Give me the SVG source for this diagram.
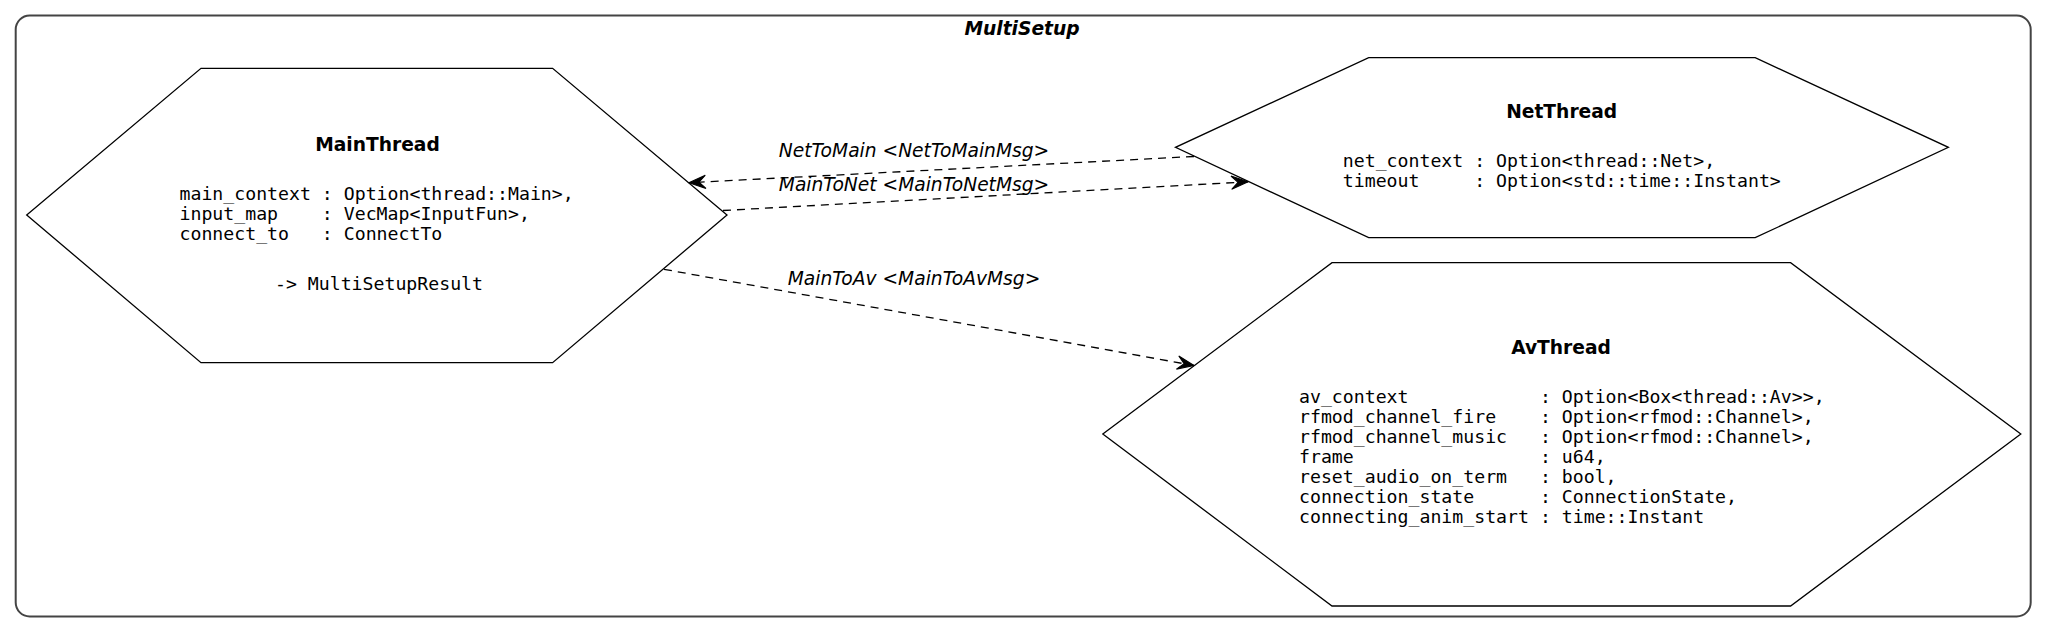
<svg xmlns="http://www.w3.org/2000/svg" width="2047" height="633" viewBox="0 0 2047 633">
<style>
.hex{fill:#fff;stroke:#000;stroke-width:1.3}
.title{font-family:"DejaVu Sans",sans-serif;font-weight:bold;font-size:18.67px;text-anchor:middle;fill:#000}
.mono{font-family:"DejaVu Sans Mono",monospace;font-size:18.2px;white-space:pre;fill:#000}
.lbl{font-family:"DejaVu Sans",sans-serif;font-style:italic;font-size:18.67px;text-anchor:middle;fill:#000}
.edge{fill:none;stroke:#000;stroke-width:1.3;stroke-dasharray:8,6}
</style>
<defs>
<marker id="vee" markerUnits="userSpaceOnUse" markerWidth="20" markerHeight="20" viewBox="-16 -8 18 16" refX="0" refY="0" orient="auto">
<path d="M0,0 L-15,-6 L-9,0 L-15,6 Z" fill="#000" stroke="#000" stroke-width="1"/>
</marker>
</defs>
<rect width="2047" height="633" fill="#fff"/>
<g id="MultiSetup">
<rect x="15.7" y="15.5" width="2015" height="601" rx="14" ry="14" fill="none" stroke="#444" stroke-width="2"/>
<text x="1022" y="35" class="title" font-style="italic">MultiSetup</text>
</g>
<g id="MainThread">
<polygon class="hex" points="201,68.3 552.6,68.3 727,215 552.6,362.7 201,362.7 26.7,215"/>
<text x="377.5" y="151" class="title">MainThread</text>
<text x="179.5" y="200" class="mono">main_context : Option&lt;thread::Main&gt;,</text>
<text x="179.5" y="220" class="mono">input_map    : VecMap&lt;InputFun&gt;,</text>
<text x="179.5" y="240" class="mono">connect_to   : ConnectTo</text>
<text x="379" y="290" class="mono" text-anchor="middle">-&gt; MultiSetupResult</text>
</g>
<g id="NetThread">
<polygon class="hex" points="1368.7,57.7 1755.2,57.7 1948.4,147.3 1755.2,237.7 1368.7,237.7 1175.5,147.3"/>
<text x="1561.7" y="118" class="title">NetThread</text>
<text x="1342.8" y="166.5" class="mono">net_context : Option&lt;thread::Net&gt;,</text>
<text x="1342.8" y="186.5" class="mono">timeout     : Option&lt;std::time::Instant&gt;</text>
</g>
<g id="AvThread">
<polygon class="hex" points="1332,262.7 1790.6,262.7 2020.8,434 1790.6,606 1332,606 1102.8,434"/>
<text x="1561" y="354" class="title">AvThread</text>
<text x="1299" y="403" class="mono">av_context            : Option&lt;Box&lt;thread::Av&gt;&gt;,</text>
<text x="1299" y="423" class="mono">rfmod_channel_fire    : Option&lt;rfmod::Channel&gt;,</text>
<text x="1299" y="443" class="mono">rfmod_channel_music   : Option&lt;rfmod::Channel&gt;,</text>
<text x="1299" y="463" class="mono">frame                 : u64,</text>
<text x="1299" y="483" class="mono">reset_audio_on_term   : bool,</text>
<text x="1299" y="503" class="mono">connection_state      : ConnectionState,</text>
<text x="1299" y="523" class="mono">connecting_anim_start : time::Instant</text>
</g>
<g id="connectors">
<path class="edge" d="M1194,156.5 L689,182.7" marker-end="url(#vee)"/>
<text x="914" y="157" class="lbl">NetToMain &lt;NetToMainMsg&gt;</text>
<path class="edge" d="M723,210.5 L1248,181.8" marker-end="url(#vee)"/>
<text x="914" y="190.5" class="lbl">MainToNet &lt;MainToNetMsg&gt;</text>
<path class="edge" d="M664,269.3 L1194,365.5" marker-end="url(#vee)"/>
<text x="914" y="285" class="lbl">MainToAv &lt;MainToAvMsg&gt;</text>
</g>
</svg>
